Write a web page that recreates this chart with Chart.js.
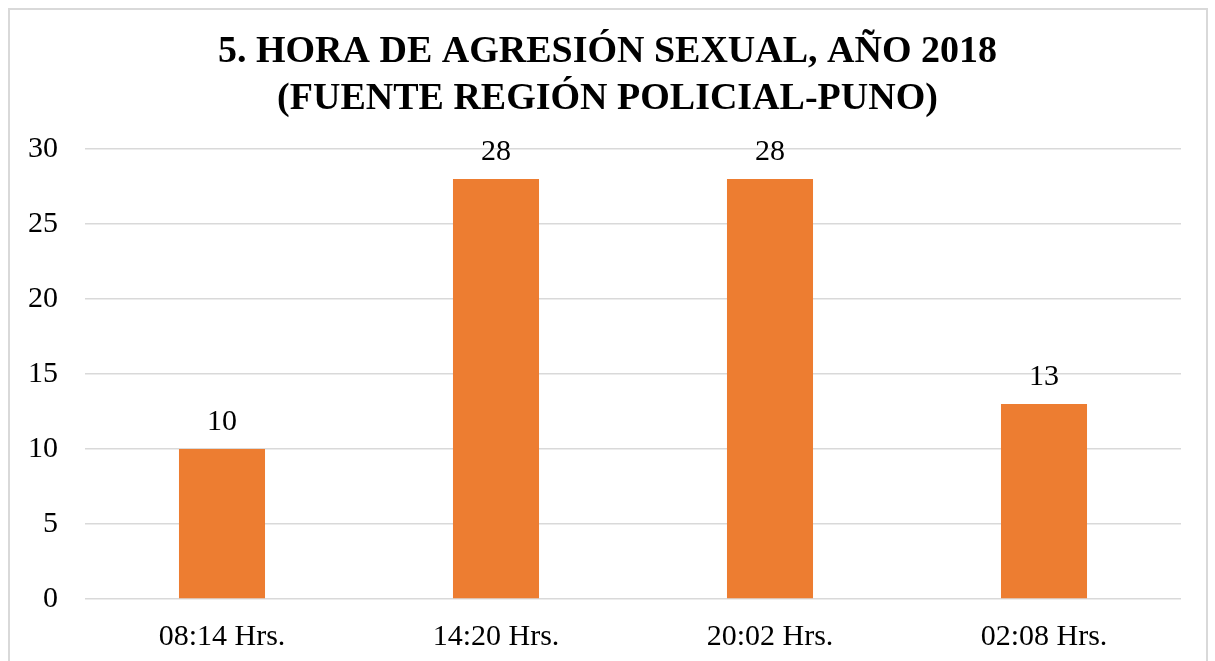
<!DOCTYPE html>
<html>
<head>
<meta charset="utf-8">
<script src="https://cdn.jsdelivr.net/npm/chart.js@4.4.0/dist/chart.umd.min.js"></script>
<style>
  html, body { margin: 0; padding: 0; background: #fff; overflow: hidden; }
  #frame { position: absolute; left: 8px; top: 8px; width: 1200px; height: 700px; border: 2px solid #d9d9d9; box-sizing: border-box; }
  #wrap { position: absolute; left: 0; top: 0; width: 1215px; height: 661px; }
</style>
</head>
<body>
<div id="frame"></div>
<div id="wrap"><canvas id="c" width="1215" height="661"></canvas></div>
<script>
const titleLines = ['5. HORA DE AGRESIÓN SEXUAL, AÑO 2018', '(FUENTE REGIÓN POLICIAL-PUNO)'];
const categories = ['08:14 Hrs.', '14:20 Hrs.', '20:02 Hrs.', '02:08 Hrs.'];
const values = [10, 28, 28, 13];
const yTicks = [0, 5, 10, 15, 20, 25, 30];

const FONT = "'Liberation Serif', 'Times New Roman', serif";

const valueLabels = {
  id: 'valueLabels',
  afterDatasetsDraw(chart) {
    const ctx = chart.ctx;
    const meta = chart.getDatasetMeta(0);
    ctx.save();
    ctx.font = '30px ' + FONT;
    ctx.fillStyle = '#000';
    ctx.textAlign = 'center';
    ctx.textBaseline = 'alphabetic';
    meta.data.forEach((bar, i) => {
      ctx.fillText(String(values[i]), bar.x, bar.y - 19);
    });
    ctx.restore();
  }
};

new Chart(document.getElementById('c'), {
  type: 'bar',
  data: {
    labels: categories,
    datasets: [{
      data: values,
      backgroundColor: '#ED7D31',
      borderWidth: 0,
      categoryPercentage: 1,
      barPercentage: 0.314
    }]
  },
  options: {
    responsive: false,
    animation: false,
    devicePixelRatio: 1,
    layout: { padding: { left: 17, right: 17, top: 0, bottom: 0 } },
    plugins: {
      legend: { display: false },
      tooltip: { enabled: false },
      title: {
        display: true,
        text: titleLines,
        color: '#000',
        font: { family: FONT, size: 38, weight: 'bold', lineHeight: 1.25 },
        padding: { top: 28, bottom: 26 }
      }
    },
    scales: {
      x: {
        afterFit(scale) { scale.height = 62; },
        grid: { display: false, drawTicks: false },
        border: { display: false },
        ticks: { color: '#000', font: { family: FONT, size: 30 }, padding: 20, maxRotation: 0 }
      },
      y: {
        min: 0,
        max: 30,
        afterFit(scale) { scale.width = 68; },
        afterBuildTicks(scale) { scale.ticks = yTicks.map(v => ({ value: v })); },
        grid: { color: '#d9d9d9', lineWidth: 1.5, drawTicks: false },
        border: { display: false },
        ticks: { color: '#000', font: { family: FONT, size: 30 }, padding: 27 }
      },
      yRight: {
        position: 'right',
        min: 0,
        max: 30,
        afterFit(scale) { scale.width = 17; },
        grid: { display: false, drawTicks: false },
        border: { display: false },
        ticks: { display: false }
      }
    }
  },
  plugins: [valueLabels]
});
</script>
</body>
</html>
